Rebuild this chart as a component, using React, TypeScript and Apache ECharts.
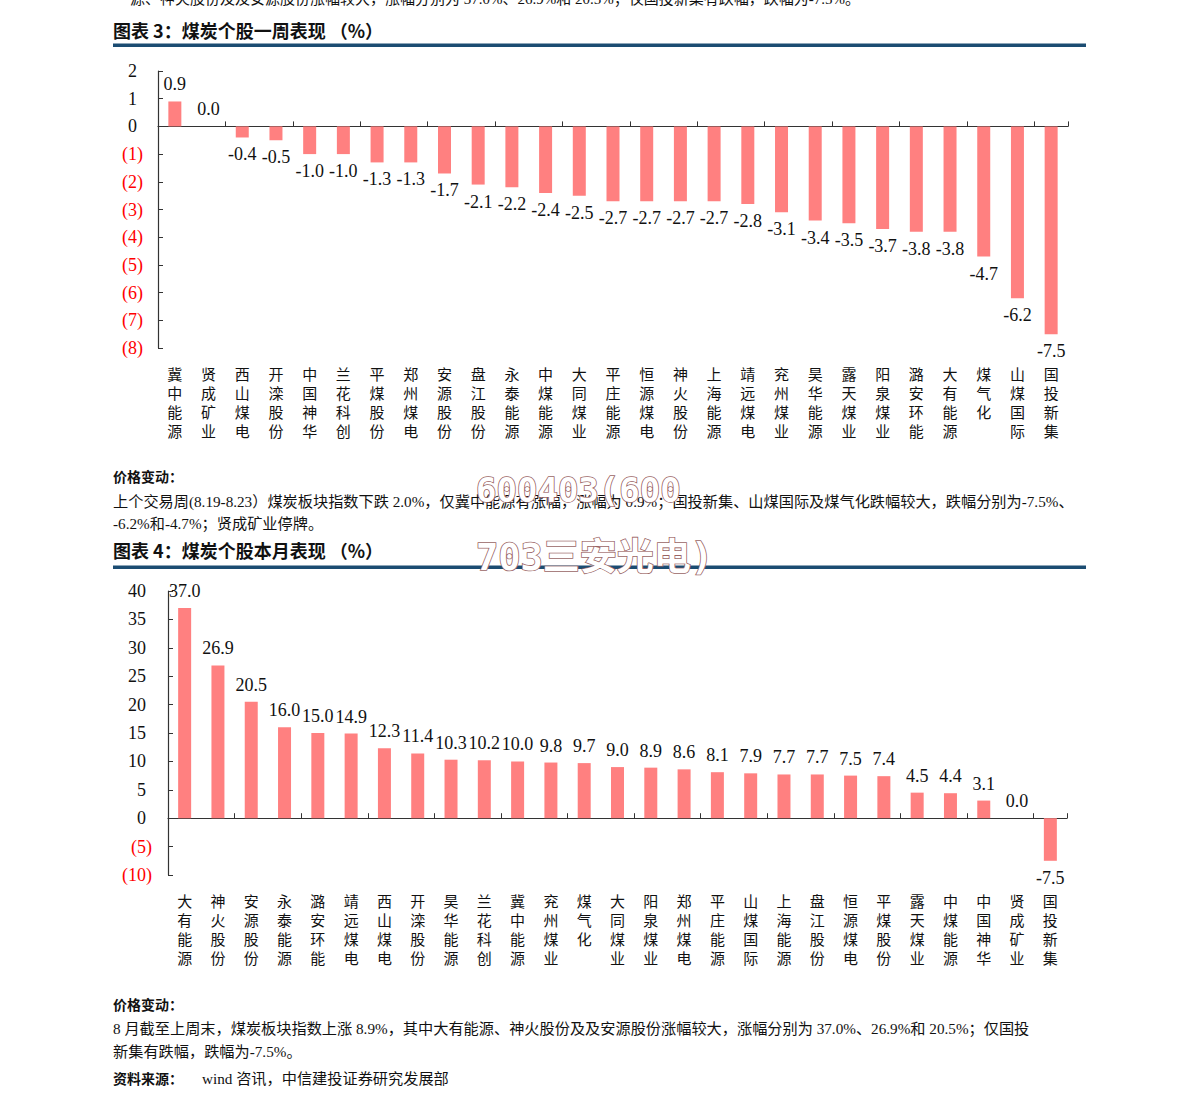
import React, { useEffect, useRef } from "react";
import * as echarts from "echarts";

const weekCategories = [
  "冀中能源", "贤成矿业", "西山煤电", "开滦股份", "中国神华", "兰花科创", "平煤股份",
  "郑州煤电", "安源股份", "盘江股份", "永泰能源", "中煤能源", "大同煤业", "平庄能源",
  "恒源煤电", "神火股份", "上海能源", "靖远煤电", "兖州煤业", "昊华能源", "露天煤业",
  "阳泉煤业", "潞安环能", "大有能源", "煤气化", "山煤国际", "国投新集",
];
const weekValues = [
  0.9, 0.0, -0.4, -0.5, -1.0, -1.0, -1.3, -1.3, -1.7, -2.1, -2.2, -2.4, -2.5, -2.7,
  -2.7, -2.7, -2.7, -2.8, -3.1, -3.4, -3.5, -3.7, -3.8, -3.8, -4.7, -6.2, -7.5,
];
const weekAxis = { min: -8, max: 2, interval: 1 };

const monthCategories = [
  "大有能源", "神火股份", "安源股份", "永泰能源", "潞安环能", "靖远煤电", "西山煤电",
  "开滦股份", "昊华能源", "兰花科创", "冀中能源", "兖州煤业", "煤气化", "大同煤业",
  "阳泉煤业", "郑州煤电", "平庄能源", "山煤国际", "上海能源", "盘江股份", "恒源煤电",
  "平煤股份", "露天煤业", "中煤能源", "中国神华", "贤成矿业", "国投新集",
];
const monthValues = [
  37.0, 26.9, 20.5, 16.0, 15.0, 14.9, 12.3, 11.4, 10.3, 10.2, 10.0, 9.8, 9.7, 9.0,
  8.9, 8.6, 8.1, 7.9, 7.7, 7.7, 7.5, 7.4, 4.5, 4.4, 3.1, 0.0, -7.5,
];
const monthAxis = { min: -10, max: 40, interval: 5 };

const topCutText = "源、神火股份及及安源股份涨幅较大，涨幅分别为 37.0%、26.9%和 20.5%；仅国投新集有跌幅，跌幅为-7.5%。";
const title3 = "图表 3：煤炭个股一周表现 （%）";
const title4 = "图表 4：煤炭个股本月表现 （%）";
const priceChange = "价格变动：";
const weekNote1 = "上个交易周(8.19-8.23）煤炭板块指数下跌 2.0%，仅冀中能源有涨幅，涨幅为 0.9%；国投新集、山煤国际及煤气化跌幅较大，跌幅分别为-7.5%、";
const weekNote2 = "-6.2%和-4.7%；贤成矿业停牌。";
const monthNote1 = "8 月截至上周末，煤炭板块指数上涨 8.9%，其中大有能源、神火股份及及安源股份涨幅较大，涨幅分别为 37.0%、26.9%和 20.5%；仅国投";
const monthNote2 = "新集有跌幅，跌幅为-7.5%。";
const sourceLabel = "资料来源：";
const sourceText = "wind 咨讯，中信建投证券研究发展部";
const watermark1 = "600403(600";
const watermark2 = "703三安光电)";

const BAR = "#FF8080";
const AXIS = "#333333";
const SERIF = "'Liberation Serif', 'Times New Roman', 'Noto Sans CJK SC', serif";
const CJK = "'Noto Sans CJK SC', 'Liberation Serif', sans-serif";
const BODY = "'Liberation Serif', 'Noto Sans CJK SC', serif";
const BLUE = "#1B4C72";

const vertical = (s: string) => s.split("").join("\n");
const yLabel = (v: number) => (v < 0 ? `{neg|(${-v})}` : `{pos|${v}}`);

function xAxes(gridIndex: number, cats: string[]) {
  return [
    {
      gridIndex,
      type: "category",
      data: cats,
      position: "bottom",
      axisLine: { onZero: true, lineStyle: { color: AXIS, width: 1.2 } },
      axisTick: { show: true, inside: true, length: 5, lineStyle: { color: AXIS } },
      axisLabel: { show: false },
    },
    {
      gridIndex,
      type: "category",
      data: cats,
      position: "bottom",
      axisLine: { show: false, onZero: false },
      axisTick: { show: false },
      axisLabel: {
        show: true,
        interval: 0,
        formatter: vertical,
        margin: 16,
        fontSize: 15,
        lineHeight: 19,
        fontFamily: CJK,
        color: "#111",
      },
    },
  ];
}

function yAxisFor(gridIndex: number, ax: { min: number; max: number; interval: number }, margin: number) {
  return {
    gridIndex,
    type: "value",
    min: ax.min,
    max: ax.max,
    interval: ax.interval,
    splitLine: { show: false },
    axisLine: { show: true, lineStyle: { color: AXIS, width: 1.2 } },
    axisTick: { show: true, inside: true, length: 5, lineStyle: { color: AXIS } },
    axisLabel: {
      formatter: yLabel,
      margin,
      rich: {
        pos: { fontSize: 18, fontFamily: SERIF, color: "#111", padding: [0, 6, 0, 0] },
        neg: { fontSize: 18, fontFamily: SERIF, color: "#FF0000" },
      },
    },
  };
}

function barSeries(xAxisIndex: number, yAxisIndex: number, values: number[]) {
  return {
    type: "bar",
    xAxisIndex,
    yAxisIndex,
    barWidth: 13,
    itemStyle: { color: BAR },
    data: values.map((v) => ({ value: v, label: { position: v < 0 ? "bottom" : "top" } })),
    label: {
      show: true,
      distance: 8,
      fontSize: 18,
      fontFamily: SERIF,
      color: "#111",
      formatter: (p: any) => Number(p.value).toFixed(1),
    },
  };
}

function txt(text: string, x: number, y: number, fontSize: number, bold = false, extra: any = {}) {
  return {
    type: "text",
    x,
    y,
    z: 50,
    style: {
      text,
      fill: "#111",
      fontSize,
      fontFamily: BODY,
      fontWeight: bold ? "bold" : "normal",
      align: "left",
      verticalAlign: "middle",
      ...extra,
    },
  };
}

export default function App() {
  const ref = useRef<HTMLDivElement>(null);
  useEffect(() => {
    if (!ref.current) return;
    const chart = echarts.init(ref.current, undefined, { renderer: "svg" });
    const wmStyle = {
      fill: "#ffffff",
      stroke: "#9a6464",
      lineWidth: 1.6,
      fontFamily: "'DejaVu Sans Mono', 'Noto Sans CJK SC', monospace",
      fontWeight: "bold",
      align: "left",
      verticalAlign: "middle",
      shadowColor: "rgba(120,80,80,0.45)",
      shadowBlur: 2,
      shadowOffsetX: 1,
      shadowOffsetY: 1,
    };
    chart.setOption({
      animation: false,
      backgroundColor: "#ffffff",
      grid: [
        { left: 158, top: 71, width: 910, height: 277 },
        { left: 168, top: 591, width: 899, height: 284 },
      ],
      xAxis: [...xAxes(0, weekCategories), ...xAxes(1, monthCategories)],
      yAxis: [yAxisFor(0, weekAxis, 15), yAxisFor(1, monthAxis, 16)],
      series: [barSeries(0, 0, weekValues), barSeries(2, 1, monthValues)],
      graphic: [
        txt(topCutText, 130, -1, 15),
        txt(title3, 113, 30, 18, true, { fontFamily: CJK }),
        { type: "rect", shape: { x: 113, y: 43.5, width: 973, height: 3.5 }, style: { fill: BLUE } },
        txt(priceChange, 113, 476, 14, true, { fontFamily: CJK }),
        txt(weekNote1, 113, 501, 15.2),
        txt(weekNote2, 113, 523, 15.2),
        txt(title4, 113, 550, 18, true, { fontFamily: CJK }),
        { type: "rect", shape: { x: 113, y: 565.5, width: 973, height: 3.5 }, style: { fill: BLUE } },
        txt(priceChange, 113, 1004, 14, true, { fontFamily: CJK }),
        txt(monthNote1, 113, 1028, 15.2),
        txt(monthNote2, 113, 1051, 15.2),
        txt(sourceLabel, 113, 1078, 14, true, { fontFamily: CJK }),
        txt(sourceText, 202, 1078, 15.2),
        { type: "text", x: 476, y: 490, z: 100, style: { ...wmStyle, text: watermark1, fontSize: 34 } },
        { type: "text", x: 476, y: 557, z: 100, style: { ...wmStyle, text: watermark2, fontSize: 37 } },
      ],
    });
    return () => chart.dispose();
  }, []);
  return (
    <div
      ref={ref}
      style={{ position: "absolute", left: 0, top: 0, width: 1191, height: 1106, background: "#fff" }}
    />
  );
}
